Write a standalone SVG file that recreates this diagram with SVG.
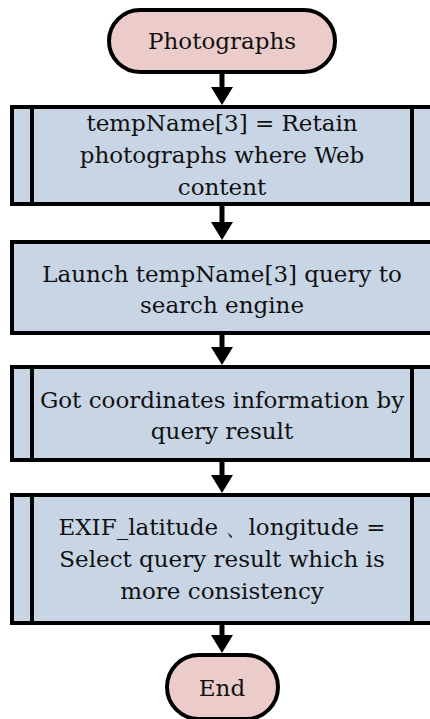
<svg xmlns="http://www.w3.org/2000/svg" width="430" height="719" viewBox="0 0 430 719">
<defs>
<style>
.term{fill:#ebcccb;stroke:#000;stroke-width:4}
.proc{fill:#c8d5e5;stroke:#000;stroke-width:4}
.bar{stroke:#000;stroke-width:4}
.t{font-family:"DejaVu Serif","Liberation Serif",serif;font-size:23px;fill:#111;text-anchor:middle}
.conn line{stroke:#000;stroke-width:5}
.conn polygon{fill:#000}
</style>
</defs>
<rect width="430" height="719" fill="#fff"/>
<g id="start">
<rect class="term" x="109" y="10" width="226" height="62" rx="31"/>
<text class="t" x="222" y="49">Photographs</text>
</g>
<g id="retain">
<rect class="proc" x="12" y="107" width="420" height="97"/>
<line class="bar" x1="32" y1="107" x2="32" y2="204"/>
<line class="bar" x1="412" y1="107" x2="412" y2="204"/>
<text class="t" x="222" y="131">tempName[3] = Retain</text>
<text class="t" x="222" y="163">photographs where Web</text>
<text class="t" x="222" y="195">content</text>
</g>
<g id="launch">
<rect class="proc" x="12" y="242" width="420" height="91"/>
<text class="t" x="222" y="282">Launch tempName[3] query to</text>
<text class="t" x="222" y="313">search engine</text>
</g>
<g id="coords">
<rect class="proc" x="12" y="367" width="420" height="93"/>
<line class="bar" x1="32" y1="367" x2="32" y2="460"/>
<line class="bar" x1="412" y1="367" x2="412" y2="460"/>
<text class="t" x="222" y="408">Got coordinates information by</text>
<text class="t" x="222" y="439">query result</text>
</g>
<g id="select">
<rect class="proc" x="12" y="495" width="420" height="128"/>
<line class="bar" x1="32" y1="495" x2="32" y2="623"/>
<line class="bar" x1="412" y1="495" x2="412" y2="623"/>
<text class="t" x="222" y="535">EXIF_latitude 、longitude =</text>
<text class="t" x="222" y="567">Select query result which is</text>
<text class="t" x="222" y="599">more consistency</text>
</g>
<g id="end">
<rect class="term" x="167" y="655" width="111" height="64" rx="32"/>
<text class="t" x="222" y="696">End</text>
</g>
<g id="connectors" class="conn">
<line x1="222" y1="72" x2="222" y2="90"/><polygon points="211,87 233,87 222,105"/>
<line x1="222" y1="206" x2="222" y2="225"/><polygon points="211,222 233,222 222,240"/>
<line x1="222" y1="335" x2="222" y2="350"/><polygon points="211,347 233,347 222,365"/>
<line x1="222" y1="462" x2="222" y2="478"/><polygon points="211,475 233,475 222,493"/>
<line x1="222" y1="625" x2="222" y2="638"/><polygon points="211,635 233,635 222,653"/>
</g>
</svg>
